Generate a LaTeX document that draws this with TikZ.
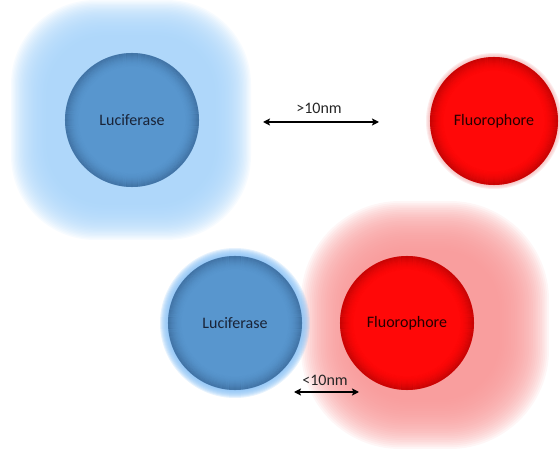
\documentclass[tikz,border=0pt]{standalone}
\usepackage{fontspec}
\setmainfont{Carlito}
\usetikzlibrary{arrows.meta}

\definecolor{lucin}{RGB}{88,150,206}
\definecolor{lucdark}{RGB}{30,60,100}
\definecolor{fluin}{RGB}{255,8,8}
\definecolor{fludark}{RGB}{110,0,0}
\definecolor{glowblue}{RGB}{168,212,250}
\definecolor{rimblue}{RGB}{135,192,245}
\definecolor{glowred}{RGB}{248,150,150}
\definecolor{rimred}{RGB}{242,165,165}
\definecolor{labeldark}{RGB}{25,35,55}

% soft halo built from stacked translucent rounded squares
% #1,#2 centre, #3 outer half size, #4 colour, #5 corner factor, #6 step
\newcommand\softhalo[6]{%
  \foreach \k in {0,...,27}{%
    \pgfmathsetmacro\hh{#3-#6*\k}%
    \pgfmathsetmacro\rr{#5*\hh}%
    \fill[#4, opacity=0.085, rounded corners=\rr pt]
      ({#1-\hh},{#2-\hh}) rectangle ({#1+\hh},{#2+\hh});
  }}
% thin glowing rim around a sphere
\newcommand\softrim[5]{%
  \foreach \k in {1,...,#4}{%
    \pgfmathsetmacro\rr{#3+\k}%
    \fill[#5, opacity=0.2] (#1,#2) circle[radius=\rr pt];
  }}
% darkening towards the inside edge of a sphere
\newcommand\innershade[3]{%
  \foreach \k in {0,...,13}{%
    \pgfmathsetmacro\rr{#2-0.5-\k}%
    \pgfmathsetmacro\oo{0.34*(1-\k/14)^1.8}%
    \draw[#3, opacity=\oo, line width=1.05pt] (#1) circle[radius=\rr pt];
  }}

\tikzset{
  sphere/.style={circle, inner sep=0pt, font=\fontsize{16}{19}\selectfont},
  lucnode/.style={sphere, fill=lucin, text=labeldark, minimum size=134pt},
  flunode/.style={sphere, fill=fluin, text=black!85!red, minimum size=#1},
  dimarrow/.style={line width=2pt,
    {Stealth[length=7pt,width=7pt,inset=1.5pt]}-{Stealth[length=7pt,width=7pt,inset=1.5pt]}},
  dimlabel/.style={font=\fontsize{16}{19}\selectfont, text=black!85, inner sep=0pt}
}

\begin{document}
\begin{tikzpicture}[x=1pt, y=-1pt]
  \useasboundingbox (0,0) rectangle (560,449);

  % halos
  \softhalo{131}{120}{120}{glowblue}{0.7}{1.3}
  \softhalo{425}{325}{124}{glowred}{0.8}{1.8}
  \softrim{494}{121}{64}{4}{rimred}
  \softrim{235}{323}{67}{8}{rimblue}

  % separated pair
  \node[lucnode] (luc1) at (132,120) {};
  \node[flunode=128pt] (flu1) at (494,121) {};
  \innershade{luc1.center}{67}{lucdark}
  \innershade{flu1.center}{64}{fludark}
  \node[sphere, text=labeldark] (luc1t) at (luc1.center) {Luciferase};
  \node[sphere, text=black!85!red] (flu1t) at (flu1.center) {Fluorophore};

  % close pair
  \node[lucnode] (luc2) at (235,323) {};
  \node[flunode=134pt] (flu2) at (407,323) {};
  \innershade{luc2.center}{67}{lucdark}
  \innershade{flu2.center}{67}{fludark}
  \node[sphere, text=labeldark] (luc2t) at (luc2.center) {Luciferase};
  \node[sphere, text=black!85!red] (flu2t) at (flu2.center) {Fluorophore};

  % distances
  \coordinate (d1l) at (263,122);
  \coordinate (d1r) at (379,122);
  \draw[dimarrow] (d1l) -- (d1r);
  \node[dimlabel, anchor=base] (lab1) at (319,114) {>10nm};

  \coordinate (d2l) at (294,392);
  \coordinate (d2r) at (359,392);
  \draw[dimarrow] (d2l) -- (d2r);
  \node[dimlabel, anchor=base] (lab2) at (325,385) {<10nm};
\end{tikzpicture}
\end{document}
